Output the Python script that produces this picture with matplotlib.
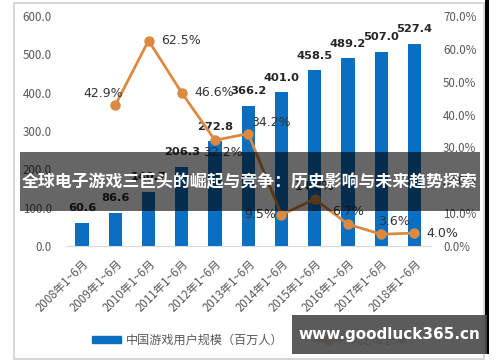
import matplotlib.pyplot as plt
from matplotlib.patches import Rectangle
from matplotlib.lines import Line2D

plt.rcParams['font.family'] = ['Noto Sans CJK SC', 'DejaVu Sans']

# 数据
years = ['2008年1~6月', '2009年1~6月', '2010年1~6月', '2011年1~6月', '2012年1~6月',
         '2013年1~6月', '2014年1~6月', '2015年1~6月', '2016年1~6月', '2017年1~6月',
         '2018年1~6月']
users = [60.6, 86.6, 140.7, 206.3, 272.8, 366.2, 401.0, 458.5, 489.2, 507.0, 527.4]
growth = [None, 42.9, 62.5, 46.6, 32.2, 34.2, 9.5, 14.3, 6.7, 3.6, 4.0]
# 增长率标签偏移 (points)
growth_offsets = [None, (-9, 8), (23, 0), (23, 0), (6, -9), (16, 8),
                  (-15, 0), (0, 9), (0, 9), (9, 9), (20, 0)]

title = '全球电子游戏三巨头的崛起与竞争：历史影响与未来趋势探索'
site = 'www.goodluck365.cn'

blue = '#0B6FC1'
orange = '#DC8A42'
grey = '#595959'

fig = plt.figure(figsize=(5, 3.62), dpi=100)
ax = fig.add_axes([0.131, 0.320, 0.731, 0.636])
ax2 = ax.twinx()

x = list(range(len(years)))
ax.bar(x, users, width=0.4, color=blue, zorder=2)
for i, v in enumerate(users):
    ax.annotate(f'{v:.1f}', (i, v), xytext=(0, 7), textcoords='offset points',
                ha='center', va='bottom', fontsize=8.2, fontweight='bold',
                color='#262626', family=['DejaVu Sans'])

gx = [i for i, g in enumerate(growth) if g is not None]
gy = [g for g in growth if g is not None]
ax2.plot(gx, gy, color=orange, lw=2, marker='o', ms=6.5, zorder=3)
for i in gx:
    ax2.annotate(f'{growth[i]:.1f}%', (i, growth[i]), xytext=growth_offsets[i],
                 textcoords='offset points', ha='center', va='center',
                 fontsize=9, color='#333333', family=['DejaVu Sans'])

ax.set_xlim(-0.5, len(years) - 0.5)
ax.set_ylim(0, 600)
ax2.set_ylim(0, 70)
ax.set_yticks(range(0, 601, 100))
ax.set_yticklabels([f'{v:.1f}' for v in range(0, 601, 100)])
ax2.set_yticks(range(0, 71, 10))
ax2.set_yticklabels([f'{v:.1f}%' for v in range(0, 71, 10)])
ax.set_xticks(x)
ax.set_xticklabels(years, rotation=45, ha='right', rotation_mode='anchor')

for a in (ax, ax2):
    for s in a.spines.values():
        s.set_visible(False)
    a.tick_params(length=0, labelsize=8.3, labelcolor=grey)
ax.tick_params(axis='y', pad=9.7)
ax2.tick_params(axis='y', pad=8.6)
ax.tick_params(axis='x', pad=8, labelsize=8.3)
ax.spines['bottom'].set_visible(True)
ax.spines['bottom'].set_color('#d9d9d9')

handles = [Rectangle((0, 0), 1, 1, color=blue),
           Line2D([], [], color=orange, lw=2, marker='o', ms=6.5)]
fig.legend(handles, ['中国游戏用户规模（百万人）', '同比增长率'], loc='center',
           bbox_to_anchor=(0.5, 0.061), ncol=2, frameon=False, fontsize=8.7,
           labelcolor=grey, handlelength=2.4, handleheight=0.5, columnspacing=2.5,
           handletextpad=0.4)

# 外框
fig.add_artist(Rectangle((0.028, 0.008), 0.94, 0.985, transform=fig.transFigure,
                         fill=False, edgecolor='#d0d0d0', lw=1.2))
fig.add_artist(Rectangle((0.970, 0.022), 0.007, 0.978, transform=fig.transFigure,
                         color='black', lw=0))

# 标题横幅
fig.add_artist(Rectangle((0.04, 0.417), 0.92, 0.163, transform=fig.transFigure,
                         color='black', alpha=0.6, lw=0, zorder=10))
fig.text(0.5, 0.495, title, ha='center', va='center', color='white',
         fontsize=12.2, fontweight='bold', zorder=11)

# 网址
fig.add_artist(Rectangle((0.584, 0.022), 0.39, 0.108, transform=fig.transFigure,
                         color='#4d4d4d', alpha=0.92, lw=0, zorder=10))
fig.text(0.779, 0.076, site, ha='center', va='center', color='white',
         fontsize=11, fontweight='bold', zorder=11, family=['DejaVu Sans'])

fig.savefig('out.png', dpi=100)
